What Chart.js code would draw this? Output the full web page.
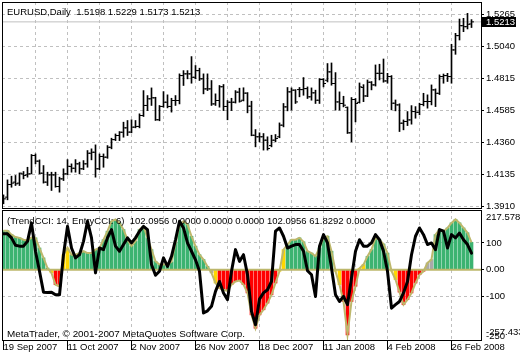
<!DOCTYPE html>
<html>
<head>
<meta charset="utf-8">
<script src="https://cdn.jsdelivr.net/npm/chart.js@4"></script>
<style>
  body { margin: 0; background: #fff; width: 520px; height: 360px; overflow: hidden; position: relative; }
  canvas { position: absolute; left: 0; }
  #price { top: 0; }
  #cci { top: 210px; }
</style>
</head>
<body>
<canvas id="price" width="520" height="210"></canvas>
<canvas id="cci" width="520" height="150"></canvas>
<script>
// EURUSD daily bars, 19 Sep 2007 .. early Mar 2008
const symbol = 'EURUSD';
const timeframe = 'Daily';

const opens = [1.3941,1.3976,1.4065,1.4082,1.4075,1.4140,1.4133,1.4140,1.4270,1.4230,
  1.4145,1.4082,1.4133,1.4133,1.4051,1.4105,1.4140,1.4192,1.4180,1.4211,
  1.4176,1.4211,1.4286,1.4293,1.4176,1.4263,1.4258,1.4328,1.4382,1.4411,
  1.4434,1.4465,1.4435,1.4470,1.4475,1.4552,1.4623,1.4670,1.4677,1.4522,
  1.4616,1.4646,1.4616,1.4658,1.4658,1.4834,1.4846,1.4846,1.4822,1.4869,
  1.4811,1.4740,1.4740,1.4634,1.4658,1.4755,1.4616,1.4646,1.4646,1.4717,
  1.4660,1.4710,1.4618,1.4413,1.4402,1.4402,1.4378,1.4340,1.4378,1.4402,
  1.4484,1.4613,1.4719,1.4731,1.4735,1.4735,1.4742,1.4684,1.4712,1.4660,
  1.4806,1.4801,1.4860,1.4778,1.4648,1.4637,1.4610,1.4430,1.4665,1.4645,
  1.4750,1.4690,1.4787,1.4768,1.4850,1.4850,1.4796,1.4827,1.4639,1.4627,
  1.4498,1.4510,1.4521,1.4580,1.4575,1.4630,1.4651,1.4651,1.4733,1.4709,
  1.4827,1.4834,1.4827,1.5015,1.5116,1.5186,1.5179,1.5198];

const highs = [1.3992,1.4098,1.4124,1.4129,1.4147,1.4157,1.4187,1.4277,1.4281,1.4239,
  1.4199,1.4152,1.4152,1.4152,1.4117,1.4176,1.4241,1.4211,1.4241,1.4223,
  1.4234,1.4305,1.4317,1.4345,1.4281,1.4281,1.4340,1.4392,1.4422,1.4439,
  1.4505,1.4517,1.4522,1.4517,1.4564,1.4728,1.4693,1.4747,1.4681,1.4623,
  1.4721,1.4698,1.4674,1.4693,1.4846,1.4869,1.4869,1.4968,1.4905,1.4886,
  1.4846,1.4846,1.4799,1.4705,1.4764,1.4771,1.4658,1.4674,1.4728,1.4745,
  1.4748,1.4714,1.4653,1.4453,1.4430,1.4425,1.4402,1.4413,1.4418,1.4500,
  1.4637,1.4750,1.4747,1.4735,1.4750,1.4820,1.4754,1.4747,1.4731,1.4813,
  1.4813,1.4919,1.4923,1.4855,1.4719,1.4688,1.4613,1.4679,1.4672,1.4782,
  1.4770,1.4803,1.4792,1.4909,1.4914,1.4951,1.4850,1.4834,1.4662,1.4635,
  1.4521,1.4580,1.4622,1.4615,1.4639,1.4709,1.4698,1.4768,1.4740,1.4839,
  1.4845,1.4850,1.5055,1.5132,1.5233,1.5238,1.5273,1.5229];

const lows = [1.3929,1.3957,1.4046,1.4058,1.4058,1.4105,1.4117,1.4140,1.4211,1.4140,
  1.4075,1.4058,1.4023,1.4046,1.4011,1.4093,1.4133,1.4152,1.4152,1.4140,
  1.4170,1.4187,1.4239,1.4117,1.4170,1.4187,1.4250,1.4317,1.4375,1.4375,
  1.4399,1.4411,1.4430,1.4465,1.4465,1.4545,1.4587,1.4623,1.4517,1.4515,
  1.4610,1.4606,1.4576,1.4623,1.4634,1.4764,1.4811,1.4780,1.4811,1.4799,
  1.4705,1.4728,1.4623,1.4623,1.4611,1.4587,1.4522,1.4587,1.4640,1.4646,
  1.4655,1.4571,1.4409,1.4331,1.4366,1.4308,1.4308,1.4331,1.4366,1.4395,
  1.4472,1.4585,1.4590,1.4637,1.4684,1.4695,1.4672,1.4660,1.4637,1.4637,
  1.4754,1.4789,1.4766,1.4590,1.4590,1.4613,1.4425,1.4366,1.4507,1.4640,
  1.4650,1.4685,1.4733,1.4760,1.4803,1.4787,1.4780,1.4592,1.4585,1.4439,
  1.4451,1.4481,1.4491,1.4533,1.4557,1.4620,1.4604,1.4627,1.4615,1.4700,
  1.4780,1.4792,1.4780,1.4984,1.5085,1.5144,1.5163,1.5173];

const closes = [1.3964,1.4065,1.4075,1.4070,1.4145,1.4129,1.4140,1.4270,1.4230,1.4145,
  1.4082,1.4133,1.4133,1.4051,1.4105,1.4140,1.4194,1.4180,1.4211,1.4176,
  1.4211,1.4286,1.4293,1.4176,1.4263,1.4258,1.4328,1.4382,1.4411,1.4434,
  1.4465,1.4435,1.4470,1.4475,1.4552,1.4623,1.4670,1.4677,1.4522,1.4616,
  1.4646,1.4616,1.4658,1.4658,1.4834,1.4846,1.4846,1.4822,1.4869,1.4811,
  1.4740,1.4740,1.4634,1.4658,1.4755,1.4616,1.4646,1.4646,1.4717,1.4653,
  1.4710,1.4618,1.4413,1.4402,1.4402,1.4378,1.4319,1.4378,1.4390,1.4484,
  1.4613,1.4719,1.4731,1.4648,1.4735,1.4742,1.4684,1.4712,1.4660,1.4806,
  1.4778,1.4860,1.4778,1.4648,1.4637,1.4625,1.4430,1.4665,1.4637,1.4754,
  1.4690,1.4787,1.4768,1.4850,1.4850,1.4796,1.4827,1.4639,1.4627,1.4498,
  1.4510,1.4521,1.4580,1.4575,1.4630,1.4651,1.4651,1.4733,1.4709,1.4827,
  1.4834,1.4827,1.5015,1.5116,1.5186,1.5179,1.5196,1.5213];

const priceTicks = [1.3910, 1.4135, 1.4360, 1.4585, 1.4815, 1.5040, 1.5265];

// time scale: a label every 16 bars, a grid line every 8
const dateLabels = ['19 Sep 2007', '11 Oct 2007', '2 Nov 2007', '26 Nov 2007',
  '18 Dec 2007', '11 Jan 2008', '4 Feb 2008', '26 Feb 2008'];
const labelEvery = 16;
const gridEvery = 8;

// TrendCCI(14) histogram + EntryCCI(6) line
const trendPeriod = 14;
const entryPeriod = 6;
const trendCci = [146,146,131,122,119,112,109,120,119,81,
  44,6,-12,-56,-62,56,81,56,56,62,
  69,62,62,75,81,112,144,181,188,175,
  150,112,88,106,150,162,119,75,31,19,
  19,21,29,100,169,181,169,125,88,56,
  38,12,-12,-50,-69,-75,-79,-56,-44,-41,
  -56,-87,-169,-219,-169,-150,-125,-94,-50,-6,
  75,94,112,112,119,104,69,62,50,81,
  119,125,69,-6,-56,-119,-244,-119,-62,5,
  19,50,75,119,112,96,62,-5,-37,-84,
  -131,-112,-87,-50,-19,-6,25,38,131,150,
  144,156,175,188,175,156,138,102.0956];

const entryCci = [134,134,119,91,88,88,106,175,69,-6,
  -84,-85,-84,-94,-94,56,162,81,44,56,
  106,181,119,-12,81,75,119,150,88,69,
  94,119,100,119,144,162,150,19,-21,-6,
  44,12,50,112,181,156,100,69,37,-6,
  -162,-154,-137,-81,-44,-87,-112,-6,75,31,
  56,-19,-156,-206,-110,-87,-75,-44,144,156,
  125,81,88,94,94,69,-4,-19,-100,88,
  131,100,6,-94,-119,-100,-131,-31,69,112,
  88,88,100,131,112,69,-6,-144,-131,-119,
  -87,-44,56,125,156,131,94,100,75,150,
  144,81,131,119,137,112,94,61.8292];

// G = trend up, R = trend down, Y = transition, N = no trend
const trendState = ('GGGGGGGGGGGG' + 'Y' + 'RR' + 'YY' +
  'GGGGGGGGGGGGGGGGGGGGGGGGGGGGGGGGGGG' + 'N' + 'Y' + 'RRRRRRRRRRRRRRR' + 'YY' +
  'GGGGGGGGGGGG' + 'YY' + 'RRRR' + 'YY' + 'GGGGGG' + 'YY' + 'RRRRRRR' + 'NN' +
  'GGGGGGGGGG').split('');

const cciTicks = [217.5783, 100, 0, -100, -250, -257.433];
const cciBuffers = [102.0956, 0, 0, 0, 102.0956, 61.8292, 0];

const stateColors = { G: '#3cb371', R: '#ff0000', Y: '#ffd700', N: '#a9a9a9' };
const FONT = { family: "'Liberation Sans', Arial, sans-serif", size: 9.5 };
const FONT_CSS = "9.5px 'Liberation Sans', Arial, sans-serif";
const GRID = '#c0c0c0';
const NONE = 'rgba(0,0,0,0)';
const KHAKI = '#bdb76b';
const X_MIN = -0.375, X_MAX = 119.375;
const AXIS_W = 39;

const idx = closes.map((_, i) => i);
const last = closes.length - 1;
const lastClose = closes[last];
const cciTop = cciTicks[0];
const cciBottom = cciTicks[cciTicks.length - 1];

function timeAxis(showLabels) {
    return {
        type: 'linear', min: X_MIN, max: X_MAX, offset: false,
        afterBuildTicks: s => {
            const t = [];
            for (let v = 0; v < closes.length; v += gridEvery) t.push({ value: v });
            s.ticks = t;
        },
        afterFit: s => { s.height = showLabels ? 20 : 0; s.paddingLeft = 0; s.paddingRight = 0; },
        grid: {
            offset: false,
            color: c => (c.tick && c.tick.value > 0) ? GRID : NONE,
            drawTicks: showLabels, tickLength: 10,
            tickColor: c => (c.tick && c.tick.value % labelEvery === 0) ? '#000' : NONE
        },
        border: { display: false, dash: [3, 3] },
        ticks: {
            display: showLabels, align: 'start', padding: -8, maxRotation: 0, autoSkip: false,
            color: '#000', font: FONT,
            callback: v => v % labelEvery === 0 ? (dateLabels[v / labelEvery] || '') : ''
        }
    };
}

function frame(chart) {
    const { ctx, chartArea: a } = chart;
    ctx.save();
    ctx.strokeStyle = '#000';
    ctx.lineWidth = 1;
    ctx.strokeRect(a.left + 0.5, a.top + 0.5, a.right - a.left, a.bottom - a.top);
    ctx.restore();
}

const common = {
    responsive: false,
    animation: false,
    events: [],
    layout: { autoPadding: false },
    plugins: { legend: { display: false }, tooltip: { enabled: false } }
};

// ---- price window ----
new Chart(document.getElementById('price').getContext('2d'), {
    type: 'bar',
    data: {
        datasets: [
            {
                type: 'line', data: idx.map(i => ({ x: i - 0.375, y: opens[i] })),
                showLine: false, pointStyle: 'line', pointRadius: 1, pointBorderWidth: 1,
                pointBorderColor: '#000', order: 0
            },
            {
                type: 'line', data: idx.map(i => ({ x: i + 0.375, y: closes[i] })),
                showLine: false, pointStyle: 'line', pointRadius: 1, pointBorderWidth: 1,
                pointBorderColor: '#000', order: 0
            },
            {
                type: 'bar', data: idx.map(i => ({ x: i, y: [lows[i], highs[i]] })),
                backgroundColor: '#000', barThickness: 1, order: 1
            },
            {
                type: 'line', data: [{ x: X_MIN, y: lastClose }, { x: X_MAX, y: lastClose }],
                borderColor: GRID, borderWidth: 1, pointRadius: 0, order: 5
            }
        ]
    },
    options: {
        ...common,
        layout: { autoPadding: false, padding: { left: 2, top: 2, right: 0, bottom: 2 } },
        scales: {
            x: timeAxis(false),
            y: {
                position: 'right', min: 1.38994, max: 1.53532,
                afterBuildTicks: s => { s.ticks = priceTicks.map(v => ({ value: v })); },
                afterFit: s => { s.width = AXIS_W; s.paddingTop = 0; s.paddingBottom = 0; },
                grid: { color: GRID, tickLength: 3, tickColor: '#000' },
                border: { display: false, dash: [3, 3] },
                ticks: { padding: 2, color: '#000', font: FONT, autoSkip: false, callback: v => v.toFixed(4) }
            }
        }
    },
    plugins: [{
        id: 'priceDecor',
        afterDraw(chart) {
            const { ctx, chartArea: a } = chart;
            frame(chart);
            ctx.save();
            ctx.font = FONT_CSS;
            ctx.fillStyle = '#000';
            ctx.textBaseline = 'alphabetic';
            const head = symbol + ',' + timeframe + '  ' +
                [opens[last], highs[last], lows[last], closes[last]].map(v => v.toFixed(4)).join(' ');
            ctx.fillText(head, a.left + 5, 15);
            // current price tag
            const y = Math.round(chart.scales.y.getPixelForValue(lastClose));
            ctx.fillRect(a.right + 1, y - 5, 34, 10);
            ctx.fillStyle = '#fff';
            ctx.textBaseline = 'middle';
            ctx.fillText(lastClose.toFixed(4), a.right + 5, y + 0.5);
            ctx.restore();
        }
    }]
});

// ---- indicator window ----
new Chart(document.getElementById('cci').getContext('2d'), {
    type: 'bar',
    data: {
        datasets: [
            {
                type: 'line', data: idx.map(i => ({ x: i, y: entryCci[i] })),
                borderColor: '#000', borderWidth: 3, pointRadius: 0,
                borderJoinStyle: 'round', borderCapStyle: 'round', order: 0
            },
            {
                type: 'line', data: [{ x: X_MIN, y: 0 }, { x: X_MAX, y: 0 }],
                borderColor: KHAKI, borderWidth: 2, pointRadius: 0, order: 1
            },
            {
                type: 'line', data: idx.map(i => ({ x: i, y: trendCci[i] })),
                borderColor: KHAKI, borderWidth: 2, pointRadius: 0, order: 2
            },
            {
                type: 'bar', data: idx.map(i => ({ x: i, y: trendCci[i] })),
                backgroundColor: idx.map(i => stateColors[trendState[i]]),
                barThickness: 3, order: 3
            }
        ]
    },
    options: {
        ...common,
        layout: { autoPadding: false, padding: { left: 2, top: 0, right: 0, bottom: 0 } },
        scales: {
            x: timeAxis(true),
            y: {
                position: 'right', min: -263.04, max: 223.19,
                afterBuildTicks: s => { s.ticks = cciTicks.map(v => ({ value: v })); },
                afterFit: s => { s.width = AXIS_W; s.paddingTop = 0; s.paddingBottom = 0; },
                grid: {
                    color: c => (c.tick && Math.abs(c.tick.value) <= 100) ? GRID : NONE,
                    tickLength: 3,
                    tickColor: c => (c.tick && Math.abs(c.tick.value) <= 100) ? '#000' : NONE
                },
                border: { display: false, dash: [3, 3] },
                ticks: {
                    padding: 2, color: '#000', font: FONT, autoSkip: false,
                    callback: v => {
                        if (v === cciTop) return ['', String(v)];
                        if (v === cciBottom) return [String(v), ''];
                        if (v === 0) return '0.00';
                        return String(v);
                    }
                }
            }
        }
    },
    plugins: [{
        id: 'cciDecor',
        afterDraw(chart) {
            const { ctx, chartArea: a } = chart;
            frame(chart);
            ctx.save();
            ctx.font = FONT_CSS;
            ctx.fillStyle = '#000';
            ctx.textBaseline = 'alphabetic';
            const head = '(TrendCCI: ' + trendPeriod + ', EntryCCI: ' + entryPeriod + ')  ' +
                cciBuffers.map(v => v.toFixed(4)).join(' ');
            ctx.fillText(head, a.left + 5, 14);
            ctx.font = "9.9px 'Liberation Sans', Arial, sans-serif";
            ctx.fillText('MetaTrader, \u00a9 2001-2007 MetaQuotes Software Corp.', a.left + 5, a.bottom - 3);
            ctx.restore();
        }
    }]
});
</script>
</body>
</html>
